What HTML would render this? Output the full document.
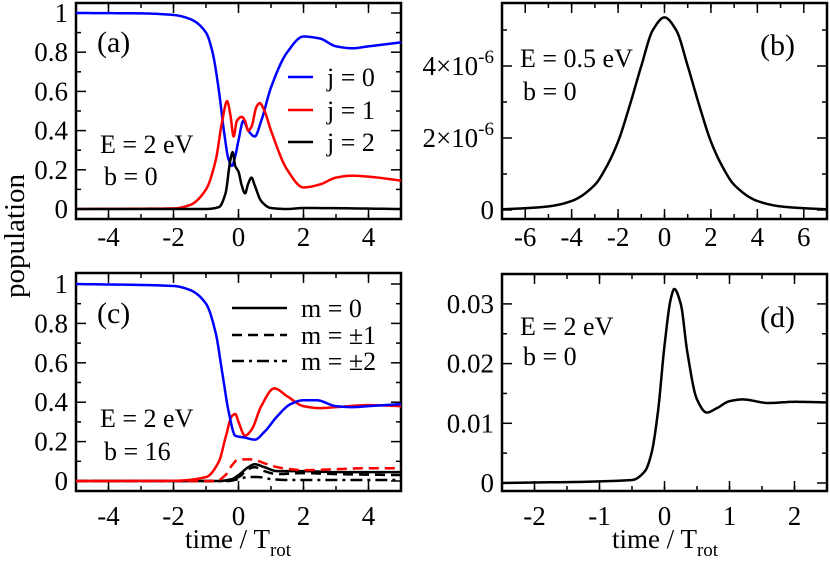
<!DOCTYPE html>
<html><head><meta charset="utf-8"><style>
html,body{margin:0;padding:0;background:#fff}
svg{display:block}
svg text{font-family:"Liberation Serif","Times New Roman",Times,serif !important}
</style></head><body>
<svg id="fig" width="830" height="563" viewBox="0 0 830 563" xmlns="http://www.w3.org/2000/svg">
<g id="plots"></g>
<g style="font-family:'Liberation Serif','Times New Roman',Times,serif" fill="#000">
<text x="24" y="236" font-size="29" text-anchor="middle" transform="rotate(-90 24 236)">population</text>
<g font-size="27" text-anchor="end">
<text x="68" y="218">0</text><text x="68" y="178.8">0.2</text><text x="68" y="139.6">0.4</text><text x="68" y="100.4">0.6</text><text x="68" y="61.2">0.8</text><text x="68" y="22">1</text>
</g>
<g font-size="27" text-anchor="middle">
<text x="108.5" y="246">-4</text><text x="173.5" y="246">-2</text><text x="238.5" y="246">0</text><text x="303.5" y="246">2</text><text x="368.5" y="246">4</text>
</g>
<g font-size="27" text-anchor="end">
<text x="68" y="490">0</text><text x="68" y="450.6">0.2</text><text x="68" y="411.2">0.4</text><text x="68" y="371.8">0.6</text><text x="68" y="332.4">0.8</text><text x="68" y="293">1</text>
</g>
<g font-size="27" text-anchor="middle">
<text x="108.5" y="525">-4</text><text x="173.5" y="525">-2</text><text x="238.5" y="525">0</text><text x="303.5" y="525">2</text><text x="368.5" y="525">4</text>
</g>
<g font-size="27" text-anchor="end">
<text x="494" y="219">0</text>
<text x="494" y="147">2×10<tspan font-size="19" dy="-12">-6</tspan></text>
<text x="494" y="75">4×10<tspan font-size="19" dy="-12">-6</tspan></text>
</g>
<g font-size="27" text-anchor="middle">
<text x="525.2" y="246">-6</text><text x="571.6" y="246">-4</text><text x="618.1" y="246">-2</text><text x="664.5" y="246">0</text><text x="710.9" y="246">2</text><text x="757.4" y="246">4</text><text x="803.8" y="246">6</text>
</g>
<g font-size="27" text-anchor="end">
<text x="494" y="492">0</text><text x="494" y="432.3">0.01</text><text x="494" y="372.6">0.02</text><text x="494" y="312.9">0.03</text>
</g>
<g font-size="27" text-anchor="middle">
<text x="534.5" y="525">-2</text><text x="599.5" y="525">-1</text><text x="664.5" y="525">0</text><text x="729.5" y="525">1</text><text x="794.5" y="525">2</text>
</g>
<text x="97" y="52" font-size="30">(a)</text>
<text x="100" y="153" font-size="26">E = 2 eV</text>
<text x="104" y="185" font-size="26">b = 0</text>
<text x="327" y="86" font-size="26">j = 0</text>
<text x="327" y="119" font-size="26">j = 1</text>
<text x="327" y="151" font-size="26">j = 2</text>
<text x="97" y="323" font-size="30">(c)</text>
<text x="100" y="427" font-size="26">E = 2 eV</text>
<text x="104" y="460" font-size="26">b = 16</text>
<text x="301" y="317" font-size="26">m = 0</text>
<text x="301" y="344" font-size="26">m = ±1</text>
<text x="301" y="370" font-size="26">m = ±2</text>
<text x="760" y="55" font-size="30">(b)</text>
<text x="520" y="67" font-size="26">E = 0.5 eV</text>
<text x="523" y="100" font-size="26">b = 0</text>
<text x="760" y="327" font-size="30">(d)</text>
<text x="520" y="335" font-size="26">E = 2 eV</text>
<text x="523" y="365" font-size="26">b = 0</text>
<text x="238" y="548" font-size="27" text-anchor="middle">time / T<tspan font-size="19" dy="8">rot</tspan></text>
<text x="665" y="548" font-size="27" text-anchor="middle">time / T<tspan font-size="19" dy="8">rot</tspan></text>
</g>
</svg>
<script>
// Panel (a) data
const aT_blue=[-5,-3,-2,-1.5,-1,-0.8,-0.6,-0.45,-0.3,-0.2,-0.1,0,0.15,0.3,0.5,0.7,1,1.5,2,2.5,3,3.5,4,5];
const aV_blue=[1.0,0.998,0.99,0.97,0.9,0.8,0.6,0.4,0.25,0.22,0.27,0.35,0.45,0.4,0.37,0.45,0.62,0.8,0.88,0.87,0.83,0.82,0.83,0.85];
const aT_red=[-5,-2,-1.5,-1,-0.7,-0.5,-0.35,-0.25,-0.15,-0.05,0.1,0.2,0.3,0.4,0.55,0.65,0.8,1,1.5,2,2.5,3,3.5,4,5];
const aV_red=[0,0.003,0.02,0.1,0.25,0.45,0.55,0.48,0.37,0.45,0.47,0.45,0.40,0.42,0.52,0.54,0.5,0.4,0.2,0.11,0.125,0.16,0.17,0.165,0.145];
const aT_blk=[-5,-1,-0.6,-0.4,-0.25,-0.18,-0.1,0,0.1,0.2,0.3,0.4,0.5,0.7,1,1.5,2,5];
const aV_blk=[0,0,0.01,0.08,0.25,0.29,0.22,0.19,0.12,0.08,0.13,0.16,0.12,0.04,0.005,0,0.005,0];
// Panel (c) data
const cT_blue=[-5,-2,-1.5,-1,-0.7,-0.5,-0.3,-0.1,0.2,0.5,0.8,1.2,1.6,2,2.4,3,3.5,4,5];
const cV_blue=[1,0.99,0.97,0.9,0.75,0.55,0.35,0.23,0.22,0.21,0.25,0.33,0.39,0.41,0.41,0.38,0.375,0.38,0.39];
const cT_red=[-5,-2,-1,-0.6,-0.4,-0.2,-0.1,0,0.2,0.4,0.7,1.1,1.5,2,2.5,3,4,5];
const cV_red=[0,0.001,0.02,0.1,0.22,0.33,0.34,0.3,0.23,0.26,0.38,0.47,0.43,0.38,0.37,0.375,0.385,0.38];
const cT_redd=[-5,-0.7,-0.4,-0.2,0,0.4,0.8,1.2,1.6,2,3,4,5];
const cV_redd=[0,0,0.03,0.08,0.11,0.11,0.09,0.07,0.06,0.055,0.06,0.065,0.065];
const cT_blk=[-5,-0.6,-0.2,0,0.3,0.5,0.8,1.2,2,3,4,5];
const cV_blk=[0,0,0.01,0.03,0.07,0.085,0.07,0.05,0.05,0.045,0.045,0.045];
const cT_blkd=[-5,-0.6,0,0.3,0.5,0.8,1.2,2,3,5];
const cV_blkd=[0,0,0.02,0.06,0.07,0.05,0.035,0.04,0.035,0.03];
const cT_blkdd=[-5,-0.3,0,0.3,0.6,1,1.5,2,5];
const cV_blkdd=[0,0,0.01,0.02,0.02,0.01,0.005,0.005,0.005];
// Panel (b) data (units 1e-6)
const bT=[-7,-6,-5,-4,-3,-2.5,-2,-1.5,-1,-0.5,0,0.5,1,1.5,2,2.5,3,4,5,6,7];
const bV=[0.02,0.05,0.1,0.25,0.7,1.2,1.9,2.9,4.0,5.0,5.35,5.0,4.0,2.9,1.9,1.2,0.7,0.25,0.1,0.05,0.02];
// Panel (d) data
const dT=[-2.5,-0.5,-0.3,-0.2,-0.1,0,0.1,0.15,0.25,0.35,0.5,0.65,0.8,1,1.2,1.6,2,2.5];
const dV=[0,0.0005,0.002,0.005,0.012,0.023,0.031,0.0325,0.03,0.022,0.014,0.0118,0.0125,0.0137,0.014,0.0134,0.0136,0.0135];

const root=document.getElementById('plots');
const NS='http://www.w3.org/2000/svg';
function mk(tag,attrs,parent){const e=document.createElementNS(NS,tag);for(const k in attrs)e.setAttribute(k,attrs[k]);(parent||root).appendChild(e);return e;}
function panel(L,R,T,B,x0,x1,yAtZeroPx,yPerUnit){
  return {L,R,T,B,sx:v=>L+(v-x0)/(x1-x0)*(R-L),sy:v=>yAtZeroPx-v*yPerUnit};
}
function curve(p,ts,vs,color,dash,name){
  const n=ts.length,dl=[],m=new Array(n);
  for(let i=0;i<n-1;i++)dl.push((vs[i+1]-vs[i])/(ts[i+1]-ts[i]));
  m[0]=dl[0];m[n-1]=dl[n-2];
  for(let i=1;i<n-1;i++){
    if(dl[i-1]*dl[i]<=0)m[i]=0;
    else{const h0=ts[i]-ts[i-1],h1=ts[i+1]-ts[i];const w1=2*h1+h0,w2=h1+2*h0;m[i]=(w1+w2)/(w1/dl[i-1]+w2/dl[i]);}
  }
  let d='';
  for(let i=0;i<n-1;i++){
    const h=ts[i+1]-ts[i];
    for(let k=(i===0?0:1);k<=16;k++){
      const s=k/16,s2=s*s,s3=s2*s;
      const v=(2*s3-3*s2+1)*vs[i]+(s3-2*s2+s)*h*m[i]+(-2*s3+3*s2)*vs[i+1]+(s3-s2)*h*m[i+1];
      d+=(d===''?'M':'L')+p.sx(ts[i]+s*h).toFixed(2)+','+p.sy(v).toFixed(2);
    }
  }
  const e=mk('path',{d,fill:'none',stroke:color,'stroke-width':2.5,'stroke-linejoin':'round','stroke-dasharray':dash||'none','clip-path':'url(#'+p.clip+')'});
  
  
}
function frame(p,name,xMaj,xMin,yMaj,yMin){
  const defs=mk('defs',{});
  const cp=mk('clipPath',{id:name+'-clip'},defs);
  mk('rect',{x:p.L,y:p.T,width:p.R-p.L,height:p.B-p.T},cp);
  p.clip=name+'-clip';
  const g=mk('g',{});
  
  
  const tick=(x1,y1,x2,y2)=>mk('line',{x1,y1,x2,y2,stroke:'#000','stroke-width':1.5},g);
  xMaj.forEach(v=>{const x=p.sx(v);tick(x,p.B,x,p.B-10);tick(x,p.T,x,p.T+10);});
  xMin.forEach(v=>{const x=p.sx(v);tick(x,p.B,x,p.B-5);tick(x,p.T,x,p.T+5);});
  yMaj.forEach(v=>{const y=p.sy(v);tick(p.L,y,p.L+10,y);tick(p.R,y,p.R-10,y);});
  yMin.forEach(v=>{const y=p.sy(v);tick(p.L,y,p.L+5,y);tick(p.R,y,p.R-5,y);});
  mk('rect',{x:p.L,y:p.T,width:p.R-p.L,height:p.B-p.T,fill:'none',stroke:'#000','stroke-width':2.5},g);
}
function swatch(x1,x2,y,color,dash){
  const ln=mk('line',{x1,y1:y,x2,y2:y,stroke:color,'stroke-width':2.5,'stroke-dasharray':dash||'none'});
  
  
}
const range=(a,b,s)=>{const r=[];for(let v=a;v<=b+1e-9;v+=s)r.push(+v.toFixed(6));return r;};

const pa=panel(76,401,3,219,-5,5,209,196);
frame(pa,'panel-a',range(-4,4,2),range(-5,5,1),range(0,1,0.2),range(0.1,0.9,0.2));
curve(pa,aT_blue,aV_blue,'#0000ff',null,'series-j0');
curve(pa,aT_red,aV_red,'#ff0000',null,'series-j1');
curve(pa,aT_blk,aV_blk,'#000',null,'series-j2');
swatch(288,313,77,'#0000ff');swatch(288,313,110,'#ff0000');swatch(288,313,142,'#000');

const pc=panel(76,401,273,491,-5,5,481,197);
frame(pc,'panel-c',range(-4,4,2),range(-5,5,1),range(0,1,0.2),range(0.1,0.9,0.2));
curve(pc,cT_blkdd,cV_blkdd,'#000','12,5,3,5','series-m2-j2');
curve(pc,cT_blkd,cV_blkd,'#000','10,6','series-m1-j2');
curve(pc,cT_blk,cV_blk,'#000',null,'series-m0-j2');
curve(pc,cT_redd,cV_redd,'#ff0000','10,6','series-m1-j1');
curve(pc,cT_red,cV_red,'#ff0000',null,'series-m0-j1');
curve(pc,cT_blue,cV_blue,'#0000ff',null,'series-m0-j0');
swatch(232,287,308,'#000');swatch(232,287,335,'#000','10,6');swatch(232,287,361,'#000','12,5,3,5');

const pb=panel(502,827,3,219,-7,7,210,36);
frame(pb,'panel-b',range(-6,6,2),range(-7,7,1),[0,2,4],[1,3,5]);
curve(pb,bT,bV,'#000',null,'series-b');

const pd=panel(502,827,274,491,-2.5,2.5,483,5970);
frame(pd,'panel-d',range(-2,2,1),range(-2.5,2.5,0.5),[0,0.01,0.02,0.03],[0.005,0.015,0.025]);
curve(pd,dT,dV,'#000',null,'series-d');
</script>
</body></html>
